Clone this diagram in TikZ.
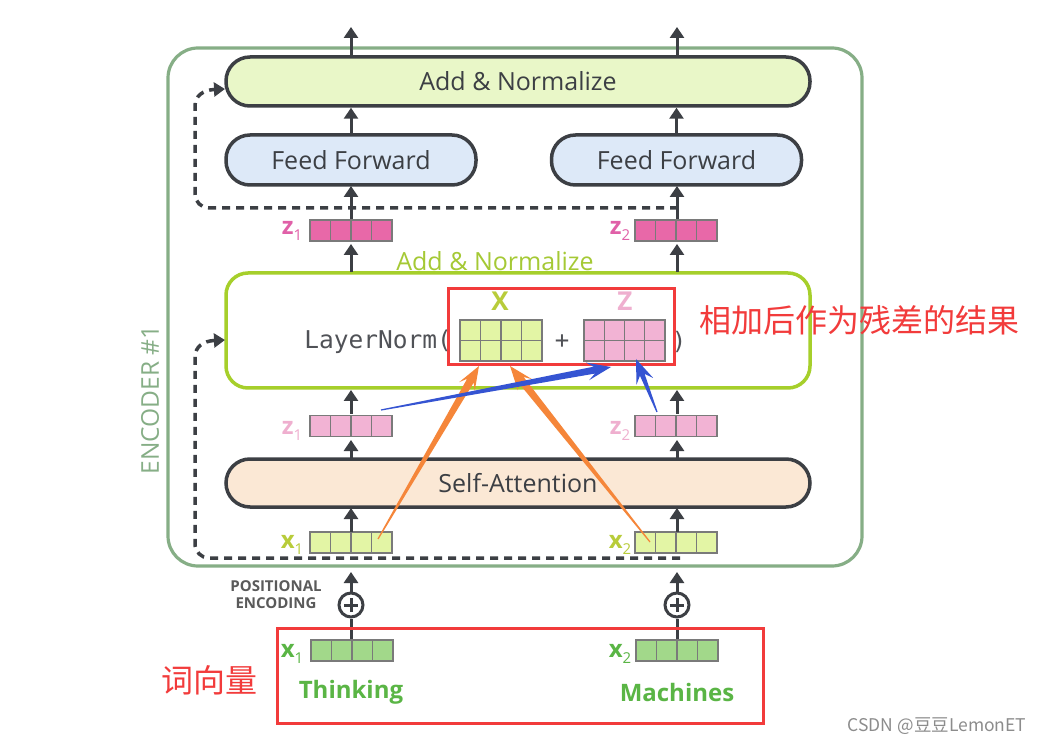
\documentclass[tikz,border=0pt]{standalone}
\usepackage{fontspec}
\setmainfont{Open Sans}
\newfontfamily\monof{DejaVu Sans Mono}
\newfontfamily\cjk{Noto Sans CJK SC}
\usetikzlibrary{arrows.meta,calc}
\definecolor{dk}{HTML}{3C3F44}
\definecolor{anfill}{HTML}{E9F7C8}
\definecolor{fffill}{HTML}{DDE9F8}
\definecolor{safill}{HTML}{FBE8D5}
\definecolor{encg}{HTML}{86AE86}
\definecolor{lime}{HTML}{A6CF2B}
\definecolor{limetxt}{HTML}{A5C935}
\definecolor{hotpink}{HTML}{E868A8}
\definecolor{hotpinktxt}{HTML}{E060A8}
\definecolor{ltpink}{HTML}{F2B3D4}
\definecolor{ltpinktxt}{HTML}{EFAFCF}
\definecolor{ylg}{HTML}{E3F5A5}
\definecolor{ylgtxt}{HTML}{B8CC3A}
\definecolor{wgreen}{HTML}{A2D88A}
\definecolor{wgreentxt}{HTML}{5AB545}
\definecolor{redann}{HTML}{F23B3B}
\definecolor{orann}{HTML}{F5863A}
\definecolor{bluann}{HTML}{3554D2}
\definecolor{cellg}{HTML}{7A7A7A}
\definecolor{posg}{HTML}{5A5A5A}
\newcommand\lab[2]{#1\raisebox{-0.22em}{\fontsize{15}{15}\selectfont\mdseries #2}}
\newcommand\tarrow[4]{%
  \coordinate (ta-c) at ($(#2)!24pt!(#1)$);
  \coordinate (ta-n) at ($(#2)!17pt!(#1)$);
  \fill[#3] ($(#1)!0.6pt!90:(#2)$) -- ($(ta-n)!#4pt!90:(#2)$) -- ($(ta-c)!9pt!90:(#2)$) -- (#2)
    -- ($(ta-c)!9pt!-90:(#2)$) -- ($(ta-n)!#4pt!-90:(#2)$) -- ($(#1)!0.6pt!-90:(#2)$) -- cycle;}
\tikzset{
  bigbox/.style={draw=dk, line width=3.5, rounded corners=24, inner sep=0,
    font=\fontsize{25}{28}\selectfont, text=dk},
  upar/.style={draw=dk, line width=3, -{Triangle[length=11pt,width=14pt]}},
  dsh/.style={draw=dk, line width=3.5, dash pattern=on 8pt off 6pt, -{Triangle[length=11pt,width=14pt]}},
  vecn/.style={draw=cellg, line width=1.3, minimum width=82, minimum height=21, inner sep=0,
    path picture={\foreach \i in {1,2,3}{\draw[cellg,line width=1.3]
      ($(path picture bounding box.south west)!\i/4!(path picture bounding box.south east)$) --
      ($(path picture bounding box.north west)!\i/4!(path picture bounding box.north east)$);}}},
  matn/.style={vecn, minimum height=41,
    path picture={\foreach \i in {1,2,3}{\draw[cellg,line width=1.3]
      ($(path picture bounding box.south west)!\i/4!(path picture bounding box.south east)$) --
      ($(path picture bounding box.north west)!\i/4!(path picture bounding box.north east)$);}
      \draw[cellg,line width=1.3] (path picture bounding box.west) -- (path picture bounding box.east);}},
  veclab/.style={font=\fontsize{24}{24}\selectfont\bfseries, inner sep=0},
  plusn/.style={circle, draw=dk, line width=3, minimum size=24, inner sep=0,
    path picture={\draw[dk,line width=3] ($(path picture bounding box.center)+(-7,0)$) -- ($(path picture bounding box.center)+(7,0)$)
      ($(path picture bounding box.center)+(0,-7)$) -- ($(path picture bounding box.center)+(0,7)$);}},
  redbox/.style={draw=redann, line width=3},
}
\begin{document}
\begin{tikzpicture}[x=1pt,y=-1pt]
\useasboundingbox[fill=white] (0,0) rectangle (1053,743);
% encoder frame
\draw[encg, line width=3.2, rounded corners=30] (168,48) rectangle (862,566);
\node[rotate=90, text=encg, font=\fontsize{24.5}{24}\selectfont] (enc) at (150,400) {ENCODER \#1};
% boxes
\node[bigbox, fill=anfill, minimum width=584, minimum height=49] (an) at (518,81.5) {Add \& Normalize};
\node[bigbox, fill=fffill, minimum width=250, minimum height=50] (ff1) at (351,160) {Feed Forward};
\node[bigbox, fill=fffill, minimum width=250, minimum height=50] (ff2) at (676.5,160) {Feed Forward};
\node[bigbox, fill=safill, minimum width=584, minimum height=48] (sa) at (518,483) {Self-Attention};
\node[draw=lime, line width=3.5, rounded corners=22, minimum width=584, minimum height=115, inner sep=0] (ln) at (518,330.5) {};
\node[text=limetxt, font=\fontsize{25}{25}\selectfont, inner sep=0] (antxt) at (495,261) {Add \& Normalize};
% layer norm content
\node[anchor=east, font=\monof\fontsize{24.5}{24}\selectfont, text=dk!90, inner sep=0] (lnt) at (452,342) {LayerNorm(};
\node[matn, fill=ylg, minimum width=82] (X) at (501,340.5) {};
\node[matn, fill=ltpink, minimum width=81] (Z) at (624.5,340.5) {};
\node[font=\monof\fontsize{24}{24}\selectfont, text=dk!90, inner sep=0] (plus) at (562,342) {+};
\node[font=\monof\fontsize{24}{24}\selectfont, text=dk!90, inner sep=0] (rp) at (679,342) {)};
\node[veclab, text=ylgtxt, font=\fontsize{26}{26}\selectfont\bfseries] (Xl) at (500,301) {X};
\node[veclab, text=ltpinktxt, font=\fontsize{26}{26}\selectfont\bfseries] (Zl) at (625,301) {Z};
% vectors
\node[vecn, fill=hotpink] (z1a) at (351,230.5) {};
\node[vecn, fill=hotpink] (z2a) at (676,230.5) {};
\node[veclab, text=hotpinktxt] at (292,231) {\lab{z}{1}};
\node[veclab, text=hotpinktxt] at (620,231) {\lab{z}{2}};
\node[vecn, fill=ltpink] (z1b) at (351,426) {};
\node[vecn, fill=ltpink] (z2b) at (676,426) {};
\node[veclab, text=ltpinktxt] at (292,431) {\lab{z}{1}};
\node[veclab, text=ltpinktxt] at (620,431) {\lab{z}{2}};
\node[vecn, fill=ylg] (x1a) at (351,542.5) {};
\node[vecn, fill=ylg] (x2a) at (676,542.5) {};
\node[veclab, text=ylgtxt] at (292,545) {\lab{x}{1}};
\node[veclab, text=ylgtxt] at (620,545) {\lab{x}{2}};
\node[vecn, fill=wgreen] (x1w) at (352,650.5) {};
\node[vecn, fill=wgreen] (x2w) at (677,650.5) {};
\node[veclab, text=wgreentxt] at (292,654) {\lab{x}{1}};
\node[veclab, text=wgreentxt] at (620,654) {\lab{x}{2}};
\node[text=wgreentxt, font=\fontsize{24}{24}\selectfont\bfseries, inner sep=0] (w1) at (351,692) {Thinking};
\node[text=wgreentxt, font=\fontsize{24}{24}\selectfont\bfseries, inner sep=0] (w2) at (677,692) {Machines};
% positional encoding
\node[plusn] (p1) at (351,605) {};
\node[plusn] (p2) at (677,605) {};
\node[text=posg, font=\fontsize{15}{17}\selectfont\bfseries, align=center, inner sep=0] (pe) at (276,595) {POSITIONAL\\ENCODING};
\draw[dk, line width=3] (x1w.north -| p1) -- (p1.south);
\draw[dk, line width=3] (x2w.north -| p2) -- (p2.south);
\coordinate (t1) at (351,572); \coordinate (t2) at (677,572);
\draw[upar] (p1.north) -- (t1);
\draw[upar] (p2.north) -- (t2);
% up arrows
\draw[upar] (351,532) -- (351,508);
\draw[upar] (677,532) -- (677,508);
\draw[upar] (351,459) -- (351,440);
\draw[upar] (677,459) -- (677,440);
\draw[upar] (351,414) -- (351,390);
\draw[upar] (677,414) -- (677,390);
\draw[upar] (351,272) -- (351,244);
\draw[upar] (677,272) -- (677,244);
\draw[upar] (351,219) -- (351,186);
\draw[upar] (677,219) -- (677,186);
\draw[upar] (ff1.north) -- (ff1.north |- an.south);
\draw[upar] (ff2.north) -- (ff2.north |- an.south);
\coordinate (o1) at (351,27); \coordinate (o2) at (677,27);
\draw[upar] (an.north -| o1) -- (o1);
\draw[upar] (an.north -| o2) -- (o2);
% residual dashed
\coordinate (d1) at (678,208); \coordinate (d1e) at (225,89);
\draw[dsh] (d1) -- (209,208) to[out=180,in=-90] (195,194) -- (195,106) .. controls (195,96) and (203,90) .. (d1e);
\coordinate (d2) at (680,558); \coordinate (d2e) at (225,340);
\draw[dsh] (d2) -- (209,558) to[out=180,in=-90] (195,544) -- (195,357) .. controls (195,347) and (203,341) .. (d2e);
% red annotation boxes
\draw[redbox] (448,289) rectangle (674,365);
\draw[redbox] (277,628) rectangle (763,723);
\node[text=redann, font=\cjk\fontsize{32}{32}\selectfont, anchor=west, inner sep=0] (cn1) at (699,320) {相加后作为残差的结果};
\node[text=redann, font=\cjk\fontsize{32}{32}\selectfont, inner sep=0] (cn2) at (209,680) {词向量};
% annotation arrows
\coordinate (oa1) at (378,539); \coordinate (oa1e) at (479,366);
\coordinate (oa2) at (650,542); \coordinate (oa2e) at (510,366);
\coordinate (ba1) at (381,410); \coordinate (ba1e) at (611,367);
\coordinate (ba2) at (657,412); \coordinate (ba2e) at (636,359);
\tarrow{oa1}{oa1e}{orann}{3.8}
\tarrow{oa2}{oa2e}{orann}{3.8}
\tarrow{ba1}{ba1e}{bluann}{3.5}
\tarrow{ba2}{ba2e}{bluann}{2.5}
% watermark
\node[text=black!45, font=\cjk\fontsize{17.5}{17}\selectfont, inner sep=0] (wm) at (937,726) {CSDN @豆豆LemonET};
\end{tikzpicture}
\end{document}
